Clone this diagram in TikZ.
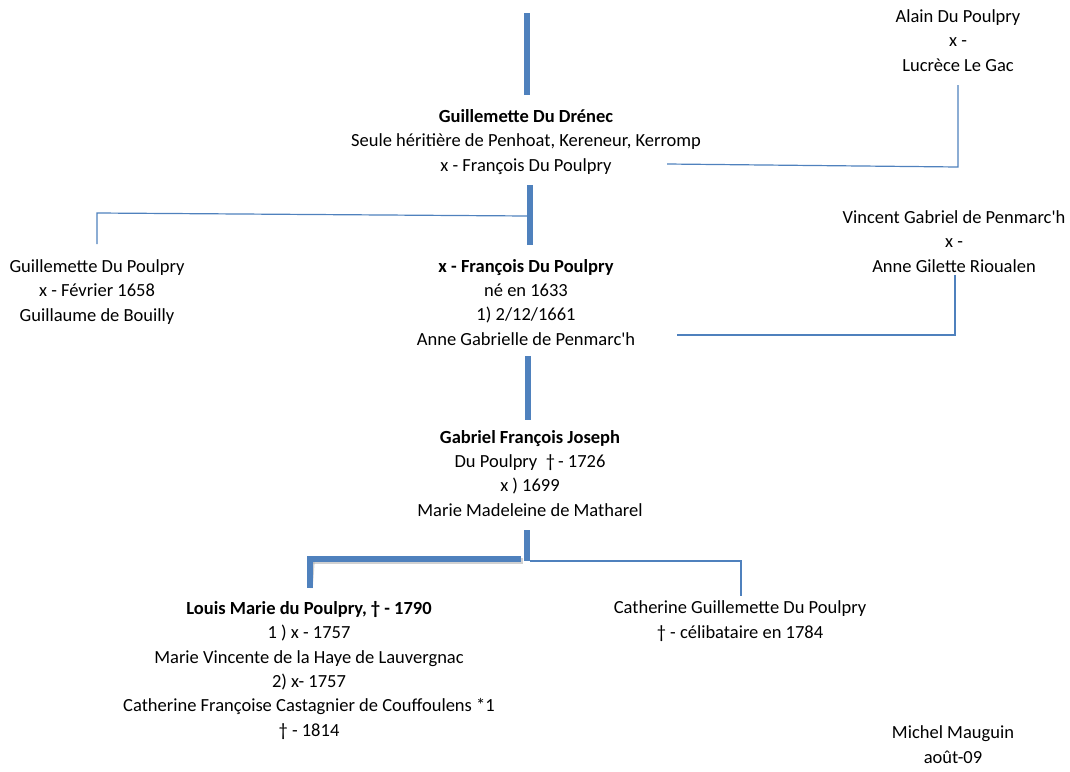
\documentclass[tikz,border=0pt]{standalone}
\usepackage{fontspec}
\setmainfont{Carlito}
\begin{document}
\begin{tikzpicture}[x=1pt,y=-1pt,
  txt/.style={anchor=base,align=center,inner sep=0pt,font=\fontsize{18.5}{24.3}\selectfont},
  thin/.style={draw=linkblue,line width=1.2pt},
  thick/.style={draw=linkblue,line width=5.5pt},
  shadow/.style={draw=black!30,line width=5.5pt,opacity=0.6},
]
\definecolor{linkblue}{RGB}{79,129,189}
\useasboundingbox (0,0) rectangle (1070,771);
% text nodes (anchor = baseline of last line)
\node[txt] (alain) at (958,71) {Alain Du Poulpry\\x -\\Lucrèce Le Gac};
\node[txt] (drenec) at (526,171) {\textbf{Guillemette Du Drénec}\\Seule héritière de Penhoat, Kereneur, Kerromp\\x - François Du Poulpry};
\node[txt] (gpoulpry) at (97,321) {Guillemette Du Poulpry\\x - Février 1658\\Guillaume de Bouilly};
\node[txt] (francois) at (526,345) {\textbf{x - François Du Poulpry}\\né en 1633\\1) 2/12/1661\\Anne Gabrielle de Penmarc\textquotesingle h};
\node[txt] (vincent) at (954,272) {Vincent Gabriel de Penmarc\textquotesingle h\\x -\\Anne Gilette Rioualen};
\node[txt] (gabriel) at (530,516) {\textbf{Gabriel François Joseph}\\Du Poulpry \ †\,- 1726\\x ) 1699\\Marie Madeleine de Matharel};
\node[txt] (louis) at (309,736) {\textbf{Louis Marie du Poulpry, † - 1790}\\1 ) x - 1757\\Marie Vincente de la Haye de Lauvergnac\\2) x- 1757\\Catherine Françoise Castagnier de Couffoulens *1\\† - 1814};
\node[txt] (catherine) at (740,638) {Catherine Guillemette Du Poulpry\\† - célibataire en 1784};
\node[txt] (michel) at (953,763) {Michel Mauguin\\août-09};
% coordinates
\coordinate (t1a) at (527,13);  \coordinate (t1b) at (527,95);
\coordinate (t2a) at (530,185); \coordinate (t2b) at (530,245);
\coordinate (t3a) at (528,356); \coordinate (t3b) at (528,420);
\coordinate (t4a) at (527,530); \coordinate (t4b) at (527,561);
\coordinate (t4c) at (307,559); \coordinate (t4d) at (310,588);
\coordinate (s1a) at (97,244); \coordinate (s1b) at (97,213); \coordinate (s1c) at (527,216);
\coordinate (a1a) at (958,85); \coordinate (a1b) at (958,167); \coordinate (a1c) at (667,164);
\coordinate (v1a) at (955,275); \coordinate (v1b) at (955,335); \coordinate (v1c) at (677,335);
\coordinate (c1a) at (530,561); \coordinate (c1b) at (741,561); \coordinate (c1c) at (741,596);
% shadows
\begin{scope}[shift={(2,2)}]
\draw[shadow] (t1a) -- (t1b);
\draw[shadow] (t2a) -- (t2b);
\draw[shadow] (t3a) -- (t3b);
\draw[shadow] (t4a) -- (t4b);
\draw[shadow] (310,559) -- (521,559);
\draw[shadow] (310,559) -- (t4d);
\end{scope}
% thin connectors
\draw[thin] (s1a) -- (s1b) -- (s1c);
\draw[thin] (a1a) -- (a1b) -- (a1c);
\draw[thin] (v1a) -- (v1b) -- (v1c);
\draw[thin] (c1a) -- (c1b) -- (c1c);
% thick connectors
\draw[thick] (t1a) -- (t1b);
\draw[thick] (t2a) -- (t2b);
\draw[thick] (t3a) -- (t3b);
\draw[thick] (t4a) -- (t4b);
\draw[thick] (307,559) -- (521,559);
\draw[thick] (310,556.25) -- (t4d);
\end{tikzpicture}
\end{document}
